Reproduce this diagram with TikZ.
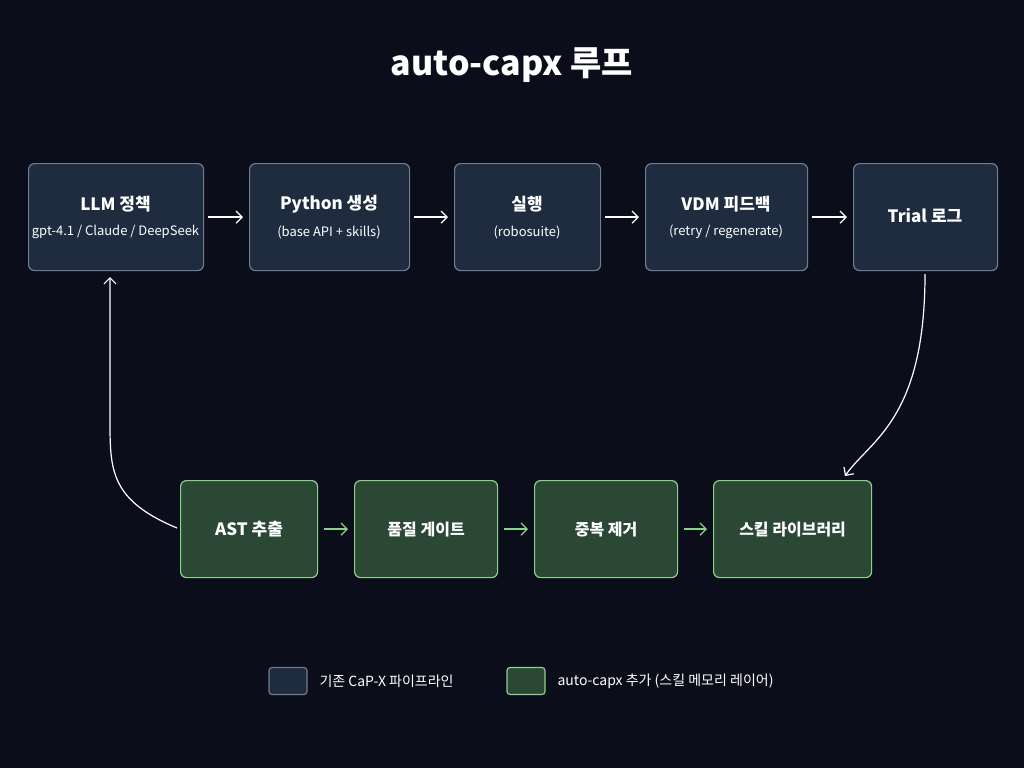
\documentclass[tikz,border=0pt]{standalone}
\usepackage{fontspec}
\setmainfont{Noto Sans CJK KR}
\usetikzlibrary{arrows.meta}
\definecolor{bg}{HTML}{0B0E1A}
\definecolor{bfill}{HTML}{1F2B3F}
\definecolor{bline}{HTML}{6E7C92}
\definecolor{gfill}{HTML}{2A4834}
\definecolor{gline}{HTML}{8CD08C}
\begin{document}
\begin{tikzpicture}[x=1pt,y=-1pt,
 blue/.style={draw=bline,fill=bfill,line width=1.2pt,rounded corners=6pt,text=white,align=center,anchor=north west},
 green/.style={draw=gline,fill=gfill,line width=1.2pt,rounded corners=6pt,text=white,align=center,anchor=north west},
 t/.style={font=\fontsize{17}{20}\selectfont\bfseries},
 s/.style={font=\fontsize{13}{16}\selectfont},
 arr/.style={-{Straight Barb[length=6pt,width=12pt]},line width=1.3pt,white},
 garr/.style={-{Straight Barb[length=6pt,width=12pt]},line width=1.3pt,gline}]
\fill[bg] (0,0) rectangle (1024,768);
\useasboundingbox (0,0) rectangle (1024,768);
\node[text=white,font=\fontsize{34}{40}\selectfont\bfseries] (title) at (512,65) {auto-capx 루프};
\node[blue,minimum width=175pt,minimum height=107pt] (a) at (28,163) {};
\node[t,text=white] at (115.5,204) {LLM 정책};
\node[s,text=white] at (115.5,232) {gpt-4.1 / Claude / DeepSeek};
\node[blue,minimum width=160pt,minimum height=107pt] (b) at (249,163) {};
\node[t,text=white] at (329,204) {Python 생성};
\node[s,text=white] at (329,232) {(base API + skills)};
\node[blue,minimum width=146pt,minimum height=107pt] (c) at (454,163) {};
\node[t,text=white] at (527,204) {실행};
\node[s,text=white] at (527,232) {(robosuite)};
\node[blue,minimum width=162pt,minimum height=107pt] (d) at (645,163) {};
\node[t,text=white] at (726,204) {VDM 피드백};
\node[s,text=white] at (726,232) {(retry / regenerate)};
\node[blue,minimum width=144pt,minimum height=107pt] (e) at (853,163) {};
\node[t,text=white] at (925,216) {Trial 로그};
\node[green,t,minimum width=137pt,minimum height=97pt] (f) at (180,480) {AST 추출};
\node[green,t,font=\fontsize{16}{20}\selectfont\bfseries,minimum width=143pt,minimum height=97pt] (g) at (354,480) {품질 게이트};
\node[green,t,font=\fontsize{16}{20}\selectfont\bfseries,minimum width=143pt,minimum height=97pt] (h) at (534,480) {중복 제거};
\node[green,t,font=\fontsize{16}{20}\selectfont\bfseries,minimum width=158pt,minimum height=97pt] (i) at (713,480) {스킬 라이브러리};
\draw[arr] ([xshift=4pt,yshift=0pt]a.east) -- ([xshift=-6pt]b.west);
\draw[arr] ([xshift=4pt]b.east) -- ([xshift=-6pt]c.west);
\draw[arr] ([xshift=4pt]c.east) -- ([xshift=-6pt]d.west);
\draw[arr] ([xshift=4pt]d.east) -- ([xshift=-6pt]e.west);
\draw[garr] ([xshift=6pt]f.east) -- ([xshift=-6pt]g.west);
\draw[garr] ([xshift=6pt]g.east) -- ([xshift=-6pt]h.west);
\draw[garr] ([xshift=6pt]h.east) -- ([xshift=-6pt]i.west);
\coordinate (eb) at (925,274);
\coordinate (ib) at (845,476);
\draw[arr,line width=1.2pt] (eb) .. controls (925,420) and (870,440) .. (ib);
\coordinate (fl) at (177,528);
\coordinate (at) at (110,277);
\draw[arr,line width=1.2pt] (fl) .. controls (110,500) and (110,470) .. (110,420) -- (at);
\node[draw=bline,fill=bfill,line width=1.2pt,rounded corners=3pt,minimum width=38pt,minimum height=27pt] (l1) at (288,681) {};
\node[text=white,anchor=west,font=\fontsize{14}{16}\selectfont] (l1t) at (316,681) {기존 CaP-X 파이프라인};
\node[draw=gline,fill=gfill,line width=1.2pt,rounded corners=3pt,minimum width=38pt,minimum height=27pt] (l2) at (526,681) {};
\node[text=white,anchor=west,font=\fontsize{14}{16}\selectfont] (l2t) at (554,681) {auto-capx 추가 (스킬 메모리 레이어)};
\end{tikzpicture}
\end{document}
